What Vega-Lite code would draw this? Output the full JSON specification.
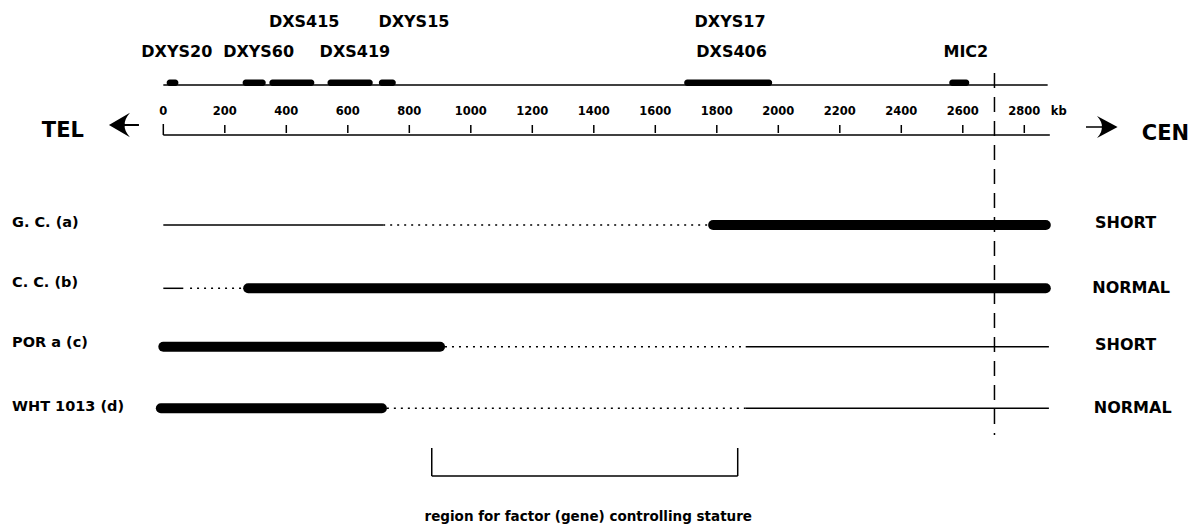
{
  "$schema": "https://vega.github.io/schema/vega-lite/v6.json",
  "width": 1194,
  "height": 525,
  "autosize": {"type": "fit", "contains": "padding"},
  "padding": 0,
  "background": "white",
  "config": {"view": {"stroke": null}, "text": {"font": "DejaVu Sans", "fontWeight": "bold", "color": "black"}},
  "datasets": {
    "segments": [
      {"row": "map", "kind": "thin", "start": 0, "end": 2876, "level": 85},
      {"row": "axis", "kind": "thin", "start": 0, "end": 2883, "level": 135},
      {"row": "G. C. (a)", "kind": "thin", "start": 0, "end": 715, "level": 225},
      {"row": "G. C. (a)", "kind": "dotted", "start": 715, "end": 1775, "level": 225},
      {"row": "G. C. (a)", "kind": "thick", "start": 1788, "end": 2870, "level": 225},
      {"row": "C. C. (b)", "kind": "thin", "start": 0, "end": 65, "level": 288.3},
      {"row": "C. C. (b)", "kind": "dotted", "start": 87, "end": 262, "level": 288.3},
      {"row": "C. C. (b)", "kind": "thick", "start": 276, "end": 2870, "level": 288.3},
      {"row": "POR a (c)", "kind": "thick", "start": 0, "end": 900, "level": 346.7},
      {"row": "POR a (c)", "kind": "dotted", "start": 916, "end": 1894, "level": 346.7},
      {"row": "POR a (c)", "kind": "thin", "start": 1894, "end": 2880, "level": 346.7},
      {"row": "WHT 1013 (d)", "kind": "thick", "start": -8, "end": 711, "level": 408.3},
      {"row": "WHT 1013 (d)", "kind": "dotted", "start": 727, "end": 1894, "level": 408.3},
      {"row": "WHT 1013 (d)", "kind": "thin", "start": 1894, "end": 2880, "level": 408.3}
    ],
    "probes": [
      {"probe": "DXYS20", "start": 11, "end": 49},
      {"probe": "DXYS60", "start": 258, "end": 333},
      {"probe": "DXS415", "start": 345, "end": 491},
      {"probe": "DXS419", "start": 534, "end": 681},
      {"probe": "DXYS15", "start": 701, "end": 756},
      {"probe": "DXYS17/DXS406", "start": 1694, "end": 1980},
      {"probe": "MIC2", "start": 2556, "end": 2621}
    ],
    "ticks": [
      {"kb": 0, "label": "0"}, {"kb": 200, "label": "200"}, {"kb": 400, "label": "400"},
      {"kb": 600, "label": "600"}, {"kb": 800, "label": "800"}, {"kb": 1000, "label": "1000"},
      {"kb": 1200, "label": "1200"}, {"kb": 1400, "label": "1400"}, {"kb": 1600, "label": "1600"},
      {"kb": 1800, "label": "1800"}, {"kb": 2000, "label": "2000"}, {"kb": 2200, "label": "2200"},
      {"kb": 2400, "label": "2400"}, {"kb": 2600, "label": "2600"}, {"kb": 2800, "label": "2800"}
    ],
    "boundary": [{"kb": 2703}],
    "bracket": [{"from": 873, "to": 1868}],
    "texts": [
      {"group": "probe", "text": "DXYS20", "kb": 44, "level": 56.5},
      {"group": "probe", "text": "DXYS60", "kb": 310, "level": 56.5},
      {"group": "probe", "text": "DXS415", "kb": 458, "level": 27},
      {"group": "probe", "text": "DXS419", "kb": 623, "level": 56.5},
      {"group": "probe", "text": "DXYS15", "kb": 815, "level": 27},
      {"group": "probe", "text": "DXYS17", "kb": 1843, "level": 27},
      {"group": "probe", "text": "DXS406", "kb": 1848, "level": 56.5},
      {"group": "probe", "text": "MIC2", "kb": 2610, "level": 56.5},
      {"group": "unit", "text": "kb", "kb": 2912, "level": 115},
      {"group": "rowlabel", "text": "G. C. (a)", "kb": -492, "level": 227},
      {"group": "rowlabel", "text": "C. C. (b)", "kb": -492, "level": 287},
      {"group": "rowlabel", "text": "POR a (c)", "kb": -492, "level": 347},
      {"group": "rowlabel", "text": "WHT 1013 (d)", "kb": -492, "level": 410.5},
      {"group": "stature", "text": "SHORT", "kb": 3030, "level": 227.5},
      {"group": "stature", "text": "NORMAL", "kb": 3021, "level": 292.7},
      {"group": "stature", "text": "SHORT", "kb": 3030, "level": 350},
      {"group": "stature", "text": "NORMAL", "kb": 3026, "level": 412.5},
      {"group": "end", "text": "TEL", "kb": -395, "level": 137},
      {"group": "end", "text": "CEN", "kb": 3182, "level": 140},
      {"group": "caption", "text": "region for factor (gene) controlling stature", "kb": 1382, "level": 521}
    ],
    "arrows": [{"dir": "left", "kb": -128, "level": 125}, {"dir": "right", "kb": 3052, "level": 127}]
  },
  "layer": [
    {
      "data": {"name": "segments"},
      "transform": [{"filter": "datum.kind === 'thin'"}],
      "mark": {"type": "rule", "strokeWidth": 1.5, "color": "black"},
      "encoding": {
        "x": {"field": "start", "type": "quantitative", "axis": null, "scale": {"domain": [-531.1, 3351.9], "nice": false, "zero": false}},
        "x2": {"field": "end"},
        "y": {"field": "level", "type": "quantitative", "axis": null, "scale": {"domain": [0, 525], "reverse": true, "nice": false, "zero": false}}
      }
    },
    {
      "data": {"name": "segments"},
      "transform": [{"filter": "datum.kind === 'dotted'"}],
      "mark": {"type": "rule", "strokeWidth": 1.6, "strokeDash": [2, 5], "color": "black"},
      "encoding": {
        "x": {"field": "start", "type": "quantitative", "axis": null},
        "x2": {"field": "end"},
        "y": {"field": "level", "type": "quantitative", "axis": null}
      }
    },
    {
      "data": {"name": "segments"},
      "transform": [{"filter": "datum.kind === 'thick'"}],
      "mark": {"type": "rule", "strokeWidth": 10, "strokeCap": "round", "color": "black"},
      "encoding": {
        "x": {"field": "start", "type": "quantitative", "axis": null},
        "x2": {"field": "end"},
        "y": {"field": "level", "type": "quantitative", "axis": null}
      }
    },
    {
      "data": {"name": "probes"},
      "mark": {"type": "rect", "cornerRadius": 3, "color": "black"},
      "encoding": {
        "x": {"field": "start", "type": "quantitative", "axis": null},
        "x2": {"field": "end"},
        "y": {"datum": 79.5, "type": "quantitative", "axis": null},
        "y2": {"datum": 86}
      }
    },
    {
      "data": {"name": "ticks"},
      "transform": [{"filter": "datum.kb > 0"}],
      "mark": {"type": "rule", "strokeWidth": 1.5, "color": "black"},
      "encoding": {
        "x": {"field": "kb", "type": "quantitative", "axis": null},
        "y": {"datum": 125, "type": "quantitative", "axis": null},
        "y2": {"datum": 133}
      }
    },
    {
      "data": {"name": "ticks"},
      "transform": [{"filter": "datum.kb === 0"}],
      "mark": {"type": "rule", "strokeWidth": 1.5, "color": "black"},
      "encoding": {
        "x": {"field": "kb", "type": "quantitative", "axis": null},
        "y": {"datum": 124, "type": "quantitative", "axis": null},
        "y2": {"datum": 135}
      }
    },
    {
      "data": {"name": "ticks"},
      "mark": {"type": "text", "fontSize": 11.5, "align": "center", "baseline": "alphabetic"},
      "encoding": {
        "x": {"field": "kb", "type": "quantitative", "axis": null},
        "y": {"datum": 115, "type": "quantitative", "axis": null},
        "text": {"field": "label"}
      }
    },
    {
      "data": {"name": "boundary"},
      "mark": {"type": "rule", "strokeWidth": 1.5, "strokeDash": [15, 9], "color": "black"},
      "encoding": {
        "x": {"field": "kb", "type": "quantitative", "axis": null},
        "y": {"datum": 73, "type": "quantitative", "axis": null},
        "y2": {"datum": 435}
      }
    },
    {
      "data": {"name": "bracket"},
      "mark": {"type": "rule", "strokeWidth": 1.5, "color": "black"},
      "encoding": {
        "x": {"field": "from", "type": "quantitative", "axis": null},
        "x2": {"field": "to"},
        "y": {"datum": 476, "type": "quantitative", "axis": null}
      }
    },
    {
      "data": {"name": "bracket"},
      "mark": {"type": "rule", "strokeWidth": 1.5, "color": "black"},
      "encoding": {
        "x": {"field": "from", "type": "quantitative", "axis": null},
        "y": {"datum": 448, "type": "quantitative", "axis": null},
        "y2": {"datum": 476}
      }
    },
    {
      "data": {"name": "bracket"},
      "mark": {"type": "rule", "strokeWidth": 1.5, "color": "black"},
      "encoding": {
        "x": {"field": "to", "type": "quantitative", "axis": null},
        "y": {"datum": 448, "type": "quantitative", "axis": null},
        "y2": {"datum": 476}
      }
    },
    {
      "data": {"name": "arrows"},
      "transform": [{"filter": "datum.dir === 'left'"}],
      "mark": {"type": "point", "filled": true, "opacity": 1, "color": "black", "size": 900, "strokeWidth": 0,
        "shape": "M-1,0 L0.4,-0.82 Q0.0,-0.35 0.05,0 Q0.0,0.35 0.4,0.82 Z M0,-0.06 L1,-0.06 L1,0.06 L0,0.06 Z"},
      "encoding": {
        "x": {"field": "kb", "type": "quantitative", "axis": null},
        "y": {"field": "level", "type": "quantitative", "axis": null}
      }
    },
    {
      "data": {"name": "arrows"},
      "transform": [{"filter": "datum.dir === 'right'"}],
      "mark": {"type": "point", "filled": true, "opacity": 1, "color": "black", "size": 1000, "strokeWidth": 0,
        "shape": "M1,0 L-0.3,-0.7 Q0.05,-0.3 0.0,0 Q0.05,0.3 -0.3,0.7 Z M0.1,-0.055 L-1,-0.055 L-1,0.055 L0.1,0.055 Z"},
      "encoding": {
        "x": {"field": "kb", "type": "quantitative", "axis": null},
        "y": {"field": "level", "type": "quantitative", "axis": null}
      }
    },
    {
      "data": {"name": "texts"},
      "transform": [{"filter": "datum.group === 'probe'"}],
      "mark": {"type": "text", "fontSize": 16, "align": "center", "baseline": "alphabetic"},
      "encoding": {
        "x": {"field": "kb", "type": "quantitative", "axis": null},
        "y": {"field": "level", "type": "quantitative", "axis": null},
        "text": {"field": "text"}
      }
    },
    {
      "data": {"name": "texts"},
      "transform": [{"filter": "datum.group === 'unit'"}],
      "mark": {"type": "text", "fontSize": 11.5, "align": "center", "baseline": "alphabetic"},
      "encoding": {
        "x": {"field": "kb", "type": "quantitative", "axis": null},
        "y": {"field": "level", "type": "quantitative", "axis": null},
        "text": {"field": "text"}
      }
    },
    {
      "data": {"name": "texts"},
      "transform": [{"filter": "datum.group === 'rowlabel'"}],
      "mark": {"type": "text", "fontSize": 14.5, "align": "left", "baseline": "alphabetic"},
      "encoding": {
        "x": {"field": "kb", "type": "quantitative", "axis": null},
        "y": {"field": "level", "type": "quantitative", "axis": null},
        "text": {"field": "text"}
      }
    },
    {
      "data": {"name": "texts"},
      "transform": [{"filter": "datum.group === 'stature'"}],
      "mark": {"type": "text", "fontSize": 16, "align": "left", "baseline": "alphabetic"},
      "encoding": {
        "x": {"field": "kb", "type": "quantitative", "axis": null},
        "y": {"field": "level", "type": "quantitative", "axis": null},
        "text": {"field": "text"}
      }
    },
    {
      "data": {"name": "texts"},
      "transform": [{"filter": "datum.group === 'end'"}],
      "mark": {"type": "text", "fontSize": 21, "align": "left", "baseline": "alphabetic"},
      "encoding": {
        "x": {"field": "kb", "type": "quantitative", "axis": null},
        "y": {"field": "level", "type": "quantitative", "axis": null},
        "text": {"field": "text"}
      }
    },
    {
      "data": {"name": "texts"},
      "transform": [{"filter": "datum.group === 'caption'"}],
      "mark": {"type": "text", "fontSize": 13.5, "align": "center", "baseline": "alphabetic"},
      "encoding": {
        "x": {"field": "kb", "type": "quantitative", "axis": null},
        "y": {"field": "level", "type": "quantitative", "axis": null},
        "text": {"field": "text"}
      }
    }
  ]
}
